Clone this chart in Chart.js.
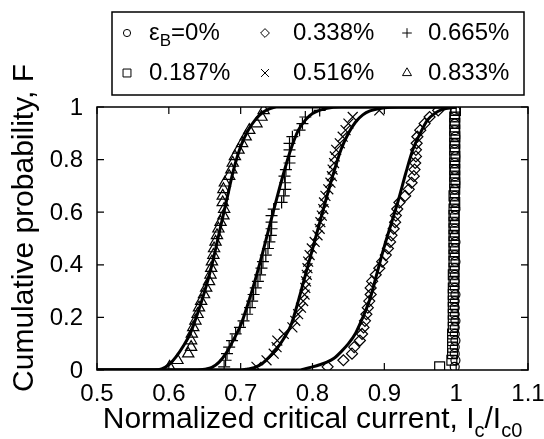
<!DOCTYPE html>
<html>
<head>
<meta charset="utf-8">
<script src="https://cdn.jsdelivr.net/npm/chart.js@4.4.0/dist/chart.umd.min.js"></script>
<style>
  html, body { margin: 0; padding: 0; background: #fff; }
  #wrap { width: 544px; height: 439px; }
</style>
</head>
<body>
<div id="wrap"><canvas id="cdf" width="544" height="439"></canvas></div>
<script>
// bending strain of each sample set, with its marker
const strainLabels = ['0%', '0.187%', '0.338%', '0.516%', '0.665%', '0.833%'];
const markerStyles = ['circle', 'rect', 'rectRot', 'crossRot', 'cross', 'triangle'];
const markerSizes = [4.5, 7, 5.5, 7, 6, 6.5];

// cumulative probability of each ranked sample (40 per set)
const probF = [0.012, 0.037, 0.062, 0.087, 0.112, 0.137, 0.162, 0.187, 0.212, 0.237,
  0.262, 0.287, 0.312, 0.337, 0.362, 0.387, 0.412, 0.437, 0.462, 0.487,
  0.512, 0.537, 0.562, 0.587, 0.612, 0.637, 0.662, 0.687, 0.712, 0.737,
  0.762, 0.787, 0.812, 0.837, 0.862, 0.887, 0.912, 0.937, 0.962, 0.987];

// ranked Ic/Ic0 for each strain
const ic0000 = [0.998, 0.999, 0.998, 0.998, 0.999, 0.998, 0.998, 0.999, 0.998, 0.998,
  0.998, 0.999, 0.998, 0.998, 0.998, 0.998, 0.999, 0.998, 0.998, 0.999,
  0.998, 0.998, 0.998, 0.998, 0.999, 0.998, 0.998, 0.998, 0.999, 0.998,
  0.998, 0.998, 0.999, 0.998, 0.998, 0.999, 0.998, 0.998, 0.998, 0.999];
const ic0187 = [0.977, 0.994, 0.995, 0.995, 0.995, 0.995, 0.996, 0.996, 0.996, 0.996,
  0.996, 0.996, 0.996, 0.997, 0.996, 0.997, 0.997, 0.997, 0.997, 0.997,
  0.997, 0.997, 0.997, 0.997, 0.997, 0.998, 0.997, 0.998, 0.998, 0.998,
  0.998, 0.998, 0.998, 0.998, 0.998, 0.998, 0.998, 0.998, 0.998, 0.999];
const ic0338 = [0.821, 0.843, 0.855, 0.858, 0.866, 0.869, 0.871, 0.873, 0.875, 0.877,
  0.879, 0.881, 0.881, 0.883, 0.888, 0.893, 0.897, 0.902, 0.905, 0.908,
  0.910, 0.913, 0.915, 0.916, 0.918, 0.921, 0.929, 0.934, 0.938, 0.941,
  0.942, 0.943, 0.944, 0.944, 0.945, 0.946, 0.950, 0.956, 0.963, 0.975];
const ic0516 = [0.722, 0.736, 0.746, 0.750, 0.751, 0.760, 0.772, 0.776, 0.780, 0.784,
  0.787, 0.789, 0.790, 0.791, 0.792, 0.793, 0.794, 0.796, 0.799, 0.803,
  0.807, 0.810, 0.811, 0.813, 0.815, 0.816, 0.818, 0.822, 0.825, 0.827,
  0.828, 0.830, 0.831, 0.833, 0.838, 0.842, 0.846, 0.850, 0.856, 0.893];
const ic0665 = [0.677, 0.679, 0.681, 0.684, 0.688, 0.693, 0.699, 0.704, 0.709, 0.713,
  0.716, 0.718, 0.721, 0.724, 0.727, 0.729, 0.731, 0.735, 0.738, 0.740,
  0.742, 0.743, 0.743, 0.743, 0.746, 0.757, 0.760, 0.762, 0.762, 0.761,
  0.763, 0.768, 0.768, 0.768, 0.768, 0.772, 0.782, 0.786, 0.790, 0.810];
const ic0833 = [0.601, 0.612, 0.627, 0.631, 0.631, 0.632, 0.634, 0.637, 0.640, 0.642,
  0.645, 0.649, 0.652, 0.656, 0.658, 0.659, 0.660, 0.662, 0.663, 0.665,
  0.667, 0.669, 0.672, 0.676, 0.677, 0.675, 0.675, 0.676, 0.678, 0.684,
  0.687, 0.689, 0.692, 0.697, 0.702, 0.707, 0.712, 0.722, 0.729, 0.732];

// fitted distribution curves
const fit0338X = [0.50, 0.78, 0.79, 0.80, 0.81, 0.82, 0.83, 0.84, 0.85, 0.86, 0.87, 0.88,
  0.89, 0.90, 0.91, 0.92, 0.93, 0.94, 0.95, 0.96, 0.97, 0.98, 1.00];
const fit0338F = [0, 0, 0.005, 0.012, 0.02, 0.03, 0.045, 0.07, 0.10, 0.14, 0.20, 0.27,
  0.37, 0.47, 0.56, 0.65, 0.75, 0.84, 0.90, 0.95, 0.975, 0.99, 1];
const fit0516X = [0.50, 0.70, 0.71, 0.72, 0.73, 0.74, 0.75, 0.76, 0.77, 0.78, 0.79, 0.80,
  0.81, 0.82, 0.83, 0.84, 0.85, 0.86, 0.87, 0.88, 0.90, 0.92, 1.00];
const fit0516F = [0, 0, 0.004, 0.01, 0.025, 0.05, 0.08, 0.12, 0.17, 0.26, 0.36, 0.46,
  0.56, 0.66, 0.755, 0.84, 0.90, 0.943, 0.97, 0.985, 0.997, 1, 1];
const fit0665X = [0.50, 0.64, 0.65, 0.66, 0.67, 0.68, 0.69, 0.70, 0.71, 0.72, 0.73, 0.74,
  0.75, 0.76, 0.77, 0.78, 0.79, 0.80, 0.82, 0.84, 1.00];
const fit0665F = [0, 0, 0.003, 0.01, 0.03, 0.065, 0.115, 0.17, 0.25, 0.34, 0.44, 0.545,
  0.65, 0.75, 0.84, 0.91, 0.95, 0.975, 0.995, 1, 1];
const fit0833X = [0.50, 0.58, 0.59, 0.60, 0.61, 0.62, 0.63, 0.64, 0.65, 0.66, 0.67, 0.68,
  0.69, 0.70, 0.71, 0.72, 0.73, 0.74, 0.75, 1.00];
const fit0833F = [0, 0, 0.004, 0.02, 0.05, 0.09, 0.14, 0.215, 0.30, 0.40, 0.52, 0.64,
  0.76, 0.85, 0.91, 0.95, 0.978, 0.993, 1, 1];

const FONT = '"Liberation Sans", Arial, sans-serif';

const pairs = (xs, ys) => xs.map((x, i) => ({ x: x, y: ys[i] }));

const samples = [ic0000, ic0187, ic0338, ic0516, ic0665, ic0833];
const fits = [[fit0338X, fit0338F], [fit0516X, fit0516F], [fit0665X, fit0665F], [fit0833X, fit0833F]];

// fit lines first so they sit on top of the markers
const datasets = fits.map(f => ({
  type: 'line',
  data: pairs(f[0], f[1]),
  borderColor: '#000',
  borderWidth: 3,
  pointRadius: 0,
  cubicInterpolationMode: 'monotone',
  fill: false,
  isFit: true
}));

samples.forEach((xs, i) => {
  datasets.push({
    type: 'scatter',
    label: strainLabels[i],
    data: pairs(xs, probF),
    pointStyle: markerStyles[i],
    pointRadius: markerSizes[i],
    borderColor: '#000',
    backgroundColor: 'rgba(0,0,0,0)',
    borderWidth: 1.2
  });
});

// text with subscripts: parts are [text, isSub]
function drawRich(ctx, parts, x, y, size, subSize, subDrop) {
  let cx = x;
  parts.forEach(p => {
    ctx.font = (p[1] ? subSize : size) + 'px ' + FONT;
    ctx.fillText(p[0], cx, p[1] ? y + subDrop : y);
    cx += ctx.measureText(p[0]).width;
  });
  return cx - x;
}

function richWidth(ctx, parts, size, subSize) {
  let w = 0;
  parts.forEach(p => {
    ctx.font = (p[1] ? subSize : size) + 'px ' + FONT;
    w += ctx.measureText(p[0]).width;
  });
  return w;
}

const fmtTick = v => String(Math.round(v * 10) / 10);

const decorations = {
  id: 'decorations',
  afterDraw(chart) {
    const ctx = chart.ctx;
    const area = chart.chartArea;
    const xs = chart.scales.x, ys = chart.scales.y;
    ctx.save();
    ctx.strokeStyle = '#000';
    ctx.fillStyle = '#000';

    // frame
    ctx.lineWidth = 1.5;
    ctx.strokeRect(area.left, area.top, area.right - area.left, area.bottom - area.top);

    // inward tick marks on all four sides
    const tl = 7;
    ctx.lineWidth = 1.2;
    ctx.beginPath();
    xs.ticks.forEach(t => {
      const px = xs.getPixelForValue(t.value);
      ctx.moveTo(px, area.bottom); ctx.lineTo(px, area.bottom - tl);
      ctx.moveTo(px, area.top); ctx.lineTo(px, area.top + tl);
    });
    ys.ticks.forEach(t => {
      const py = ys.getPixelForValue(t.value);
      ctx.moveTo(area.left, py); ctx.lineTo(area.left + tl, py);
      ctx.moveTo(area.right, py); ctx.lineTo(area.right - tl, py);
    });
    ctx.stroke();

    // tick labels
    ctx.font = '24px ' + FONT;
    ctx.textAlign = 'center';
    ctx.textBaseline = 'alphabetic';
    xs.ticks.forEach(t => {
      ctx.fillText(fmtTick(t.value), xs.getPixelForValue(t.value), 401);
    });
    ctx.textAlign = 'right';
    ctx.textBaseline = 'middle';
    ys.ticks.forEach(t => {
      ctx.fillText(fmtTick(t.value), area.left - 14, ys.getPixelForValue(t.value) + 1);
    });

    // axis titles
    ctx.textBaseline = 'alphabetic';
    ctx.textAlign = 'left';
    const xParts = [['Normalized critical current, I', false], ['c', true], ['/I', false], ['c0', true]];
    const xw = richWidth(ctx, xParts, 30, 20);
    drawRich(ctx, xParts, (area.left + area.right) / 2 - xw / 2, 428, 30, 20, 9);

    ctx.save();
    ctx.translate(33, 228);
    ctx.rotate(-Math.PI / 2);
    ctx.font = '30px ' + FONT;
    ctx.textAlign = 'center';
    ctx.fillText('Cumulative probability, F', 0, 0);
    ctx.restore();

    // legend box, two rows by three columns
    const box = { left: 112, top: 12, right: 524, bottom: 95 };
    ctx.lineWidth = 1.5;
    ctx.strokeRect(box.left, box.top, box.right - box.left, box.bottom - box.top);
    const markX = [127, 265, 407];
    const textX = [149, 293, 428];
    const rowY = [33, 73];
    ctx.textBaseline = 'middle';
    chart.data.datasets.filter(d => !d.isFit).forEach((d, i) => {
      const col = Math.floor(i / 2), row = i % 2;
      ctx.lineWidth = 1;
      ctx.fillStyle = 'rgba(0,0,0,0)';
      Chart.helpers.drawPoint(ctx, {
        pointStyle: d.pointStyle, radius: d.pointRadius * 0.8, rotation: 0, borderWidth: 1
      }, markX[col], rowY[row]);
      ctx.fillStyle = '#000';
      const parts = i === 0 ? [['\u03b5', false], ['B', true], ['=' + d.label, false]] : [[d.label, false]];
      drawRich(ctx, parts, textX[col], rowY[row], 24, 17, 8);
    });
    ctx.restore();
  }
};

new Chart(document.getElementById('cdf'), {
  type: 'scatter',
  data: { datasets: datasets },
  options: {
    responsive: false,
    devicePixelRatio: 1,
    animation: false,
    layout: { padding: { left: 97, right: 16, top: 107, bottom: 69 } },
    plugins: { legend: { display: false }, tooltip: { enabled: false } },
    scales: {
      x: { type: 'linear', display: false, min: 0.5, max: 1.1, ticks: { stepSize: 0.1 } },
      y: { type: 'linear', display: false, min: 0, max: 1, ticks: { stepSize: 0.2 } }
    }
  },
  plugins: [decorations]
});
</script>
</body>
</html>
